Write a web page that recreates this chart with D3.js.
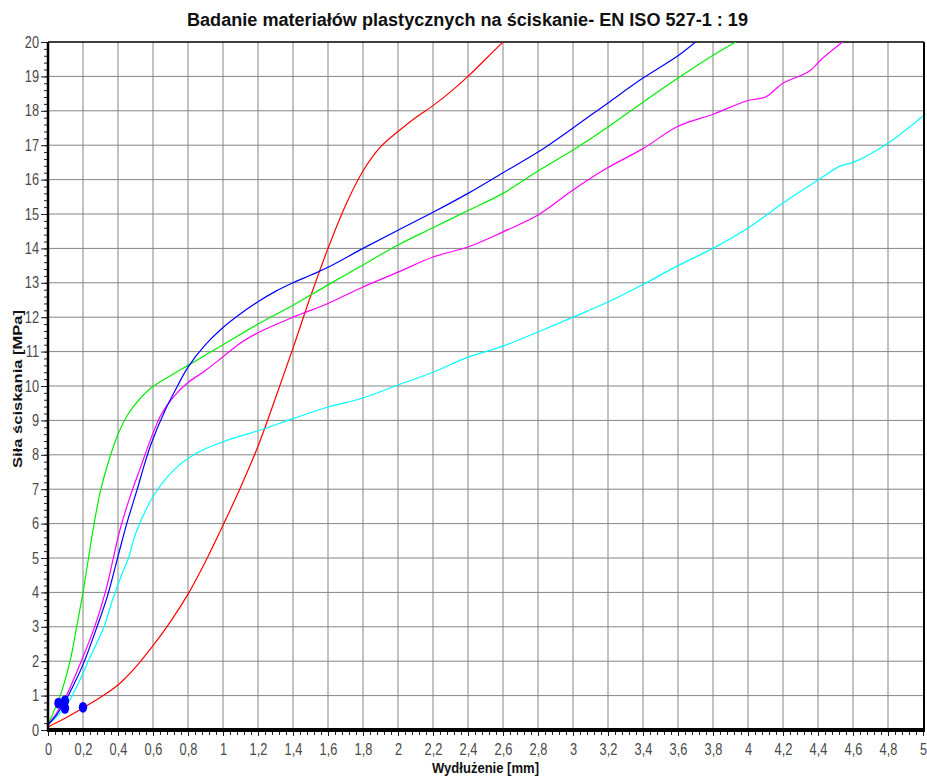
<!DOCTYPE html>
<html>
<head>
<meta charset="utf-8">
<script src="https://cdn.jsdelivr.net/npm/d3@7"></script>
<style>
  body { margin: 0; background: #fff; }
  text { font-family: "Liberation Sans", Arial, sans-serif; }
</style>
</head>
<body>
<div id="chart"></div>
<script>
// Chart texts
const titleText = 'Badanie materiałów plastycznych na ściskanie- EN ISO 527-1 : 19';
const xLabelText = 'Wydłużenie [mm]';
const yLabelText = 'Siła ściskania [MPa]';

// Tick values
const xTickValues = [0, 0.2, 0.4, 0.6, 0.8, 1, 1.2, 1.4, 1.6, 1.8, 2, 2.2, 2.4, 2.6, 2.8, 3, 3.2, 3.4, 3.6, 3.8, 4, 4.2, 4.4, 4.6, 4.8, 5];
const yTickValues = [0, 1, 2, 3, 4, 5, 6, 7, 8, 9, 10, 11, 12, 13, 14, 15, 16, 17, 18, 19, 20];

// Curves: [elongation mm, stress MPa]
const redCurve = [[0, 0.09], [0.1, 0.35], [0.2, 0.64], [0.3, 0.95], [0.4, 1.31], [0.45, 1.55], [0.5, 1.82], [0.6, 2.45],
  [0.7, 3.15], [0.8, 3.95], [0.9, 4.9], [1.0, 5.95], [1.1, 7.05], [1.2, 8.25], [1.3, 9.65], [1.4, 11.1],
  [1.5, 12.6], [1.6, 14.0], [1.7, 15.25], [1.8, 16.25], [1.9, 16.95], [2.0, 17.4], [2.1, 17.8], [2.2, 18.15],
  [2.3, 18.55], [2.4, 19.0], [2.5, 19.5], [2.6, 20.0]];

const blueCurve = [[0, 0.15], [0.05, 0.45], [0.1, 0.85], [0.15, 1.35], [0.2, 1.9], [0.28, 3.0], [0.34, 3.9], [0.4, 5.05],
  [0.45, 6.0], [0.51, 7.0], [0.55, 7.7], [0.59, 8.33], [0.67, 9.3], [0.74, 10.0], [0.8, 10.55], [0.9, 11.2],
  [1.0, 11.7], [1.1, 12.1], [1.2, 12.45], [1.3, 12.75], [1.4, 13.0], [1.5, 13.22], [1.6, 13.45], [1.8, 14.0],
  [2.0, 14.53], [2.2, 15.05], [2.4, 15.6], [2.6, 16.2], [2.8, 16.8], [3.0, 17.5], [3.2, 18.23], [3.4, 18.95],
  [3.6, 19.6], [3.7, 20.0]];

const greenCurve = [[0, 0.15], [0.03, 0.5], [0.07, 1.0], [0.126, 2.0], [0.16, 2.9], [0.2, 4.0], [0.23, 4.95], [0.26, 5.9],
  [0.3, 6.95], [0.355, 7.95], [0.4, 8.6], [0.46, 9.2], [0.52, 9.6], [0.59, 9.95], [0.7, 10.3], [0.8, 10.6],
  [0.9, 10.9], [1.0, 11.2], [1.2, 11.8], [1.4, 12.35], [1.6, 12.94], [1.8, 13.52], [2.0, 14.1], [2.2, 14.6],
  [2.4, 15.1], [2.6, 15.6], [2.8, 16.25], [3.0, 16.86], [3.2, 17.53], [3.4, 18.25], [3.6, 18.95], [3.78, 19.55], [3.93, 20.0]];

const magentaCurve = [[0, 0.15], [0.05, 0.5], [0.1, 0.95], [0.19, 2.0], [0.27, 3.05], [0.33, 4.05], [0.41, 5.8], [0.47, 6.8],
  [0.53, 7.65], [0.59, 8.5], [0.65, 9.2], [0.72, 9.7], [0.8, 10.1], [0.9, 10.45], [1.0, 10.85], [1.1, 11.25],
  [1.2, 11.55], [1.4, 12.0], [1.6, 12.4], [1.8, 12.88], [2.0, 13.31], [2.2, 13.75], [2.4, 14.04], [2.6, 14.48],
  [2.8, 14.97], [3.0, 15.7], [3.2, 16.35], [3.4, 16.9], [3.6, 17.55], [3.8, 17.9], [4.0, 18.3], [4.1, 18.4],
  [4.2, 18.8], [4.35, 19.15], [4.42, 19.5], [4.54, 20.0]];

const cyanCurve = [[0, 0.15], [0.06, 0.45], [0.116, 0.8], [0.2, 1.65], [0.23, 2.0], [0.32, 3.0], [0.37, 3.8], [0.42, 4.5],
  [0.46, 5.0], [0.5, 5.7], [0.6, 6.78], [0.72, 7.56], [0.85, 8.05], [1.0, 8.38], [1.2, 8.7], [1.4, 9.05],
  [1.6, 9.39], [1.8, 9.65], [2.0, 10.03], [2.2, 10.4], [2.4, 10.84], [2.6, 11.16], [2.8, 11.57], [3.0, 12.0],
  [3.2, 12.44], [3.4, 12.95], [3.6, 13.5], [3.8, 14.0], [4.0, 14.59], [4.2, 15.32], [4.4, 15.99], [4.53, 16.4],
  [4.6, 16.5], [4.8, 17.06], [5.0, 17.85]];

// Start markers
const markerPoints = [[0.06, 0.78], [0.097, 0.85], [0.097, 0.63], [0.2, 0.66]];

const series = [
  { color: '#ff0000', values: redCurve },
  { color: '#00ffff', values: cyanCurve },
  { color: '#ff00ff', values: magentaCurve },
  { color: '#00ee00', values: greenCurve },
  { color: '#0000ff', values: blueCurve }
];

const width = 927, height = 779;
const margin = { top: 42, right: 4, bottom: 49, left: 48 };
const squish = 0.8; // text in the picture is horizontally narrowed

const svg = d3.select('#chart').append('svg')
  .attr('width', width)
  .attr('height', height);

svg.append('rect').attr('width', width).attr('height', height).attr('fill', '#fff');

const x = d3.scaleLinear().domain([0, 5]).range([margin.left, width - margin.right]);
const y = d3.scaleLinear().domain([0, 20]).range([height - margin.bottom, margin.top]);

svg.append('clipPath').attr('id', 'plot-clip')
  .append('rect')
  .attr('x', x(0)).attr('y', y(20))
  .attr('width', x(5) - x(0)).attr('height', y(0) - y(20));

// Grid
svg.append('g')
  .selectAll('line')
  .data(xTickValues.slice(1, -1))
  .join('line')
  .attr('x1', d => x(d)).attr('x2', d => x(d))
  .attr('y1', y(0)).attr('y2', y(20))
  .attr('stroke', '#858585');

svg.append('g')
  .selectAll('line')
  .data(yTickValues.slice(1, -1))
  .join('line')
  .attr('x1', x(0)).attr('x2', x(5))
  .attr('y1', d => y(d)).attr('y2', d => y(d))
  .attr('stroke', '#858585');

// Minor ticks
const xMinor = d3.range(0, 126).map(i => i * 0.04);
const yMinor = d3.range(0, 101).map(i => i * 0.2);

svg.append('g')
  .attr('transform', `translate(0, ${y(0)})`)
  .call(d3.axisBottom(x).tickValues(xMinor).tickSize(5).tickFormat(''))
  .call(g => g.select('.domain').remove())
  .call(g => g.selectAll('line').attr('stroke', '#222'));

svg.append('g')
  .attr('transform', `translate(${x(0)}, 0)`)
  .call(d3.axisLeft(y).tickValues(yMinor).tickSize(4).tickFormat(''))
  .call(g => g.select('.domain').remove())
  .call(g => g.selectAll('line').attr('stroke', '#222'));

// Major ticks and labels
const fmt = d => String(d).replace('.', ',');

svg.append('g')
  .attr('transform', `translate(0, ${y(0)})`)
  .call(d3.axisBottom(x).tickValues(xTickValues).tickSize(6).tickPadding(8).tickFormat(fmt))
  .call(g => g.select('.domain').remove())
  .call(g => g.selectAll('line').attr('stroke', '#222'))
  .call(g => g.selectAll('text')
    .attr('fill', '#4a4a4a')
    .attr('font-size', 16)
    .attr('transform', `scale(${squish},1)`));

svg.append('g')
  .attr('transform', `translate(${x(0)}, 0)`)
  .call(d3.axisLeft(y).tickValues(yTickValues).tickSize(7).tickPadding(2).tickFormat(fmt))
  .call(g => g.select('.domain').remove())
  .call(g => g.selectAll('line').attr('stroke', '#222'))
  .call(g => g.selectAll('text')
    .attr('fill', '#4a4a4a')
    .attr('font-size', 16)
    .attr('x', -9 / squish)
    .attr('transform', `scale(${squish},1)`));

// Frame
svg.append('line').attr('x1', x(0)).attr('x2', x(5) + 1).attr('y1', y(20)).attr('y2', y(20))
  .attr('stroke', '#000').attr('stroke-width', 1.5);
svg.append('line').attr('x1', x(5) + 1).attr('x2', x(5) + 1).attr('y1', y(20)).attr('y2', y(0))
  .attr('stroke', '#000').attr('stroke-width', 2);

// Curves
const line = d3.line()
  .x(d => x(d[0]))
  .y(d => y(d[1]))
  .curve(d3.curveCatmullRom.alpha(0.5));

svg.append('g')
  .attr('clip-path', 'url(#plot-clip)')
  .selectAll('path')
  .data(series)
  .join('path')
  .attr('d', d => line(d.values))
  .attr('fill', 'none')
  .attr('stroke', d => d.color)
  .attr('stroke-width', 1.2);

// Axes lines (thick)
svg.append('line').attr('x1', x(0)).attr('x2', x(0)).attr('y1', y(20)).attr('y2', y(0))
  .attr('stroke', '#000').attr('stroke-width', 2.5);
svg.append('line').attr('x1', x(0) - 1).attr('x2', x(5) + 2).attr('y1', y(0)).attr('y2', y(0))
  .attr('stroke', '#000').attr('stroke-width', 4);

// Markers
svg.append('g')
  .selectAll('ellipse')
  .data(markerPoints)
  .join('ellipse')
  .attr('cx', d => x(d[0]))
  .attr('cy', d => y(d[1]))
  .attr('rx', 4.2)
  .attr('ry', 5.4)
  .attr('fill', '#0000ff');

// Title and axis labels
svg.append('text')
  .attr('x', 467.5)
  .attr('y', 26)
  .attr('text-anchor', 'middle')
  .attr('font-size', 18)
  .attr('font-weight', 'bold')
  .attr('textLength', 561)
  .attr('lengthAdjust', 'spacingAndGlyphs')
  .attr('fill', '#111')
  .text(titleText);

svg.append('text')
  .attr('x', (x(0) + x(5)) / 2)
  .attr('y', 773)
  .attr('text-anchor', 'middle')
  .attr('font-size', 15)
  .attr('font-weight', 'bold')
  .attr('textLength', 107)
  .attr('lengthAdjust', 'spacingAndGlyphs')
  .attr('fill', '#111')
  .text(xLabelText);

svg.append('text')
  .attr('transform', `translate(22, 389) scale(${squish},1) rotate(-90)`)
  .attr('text-anchor', 'middle')
  .attr('font-size', 16)
  .attr('font-weight', 'bold')
  .attr('textLength', 158)
  .attr('lengthAdjust', 'spacingAndGlyphs')
  .attr('fill', '#111')
  .text(yLabelText);
</script>
</body>
</html>
